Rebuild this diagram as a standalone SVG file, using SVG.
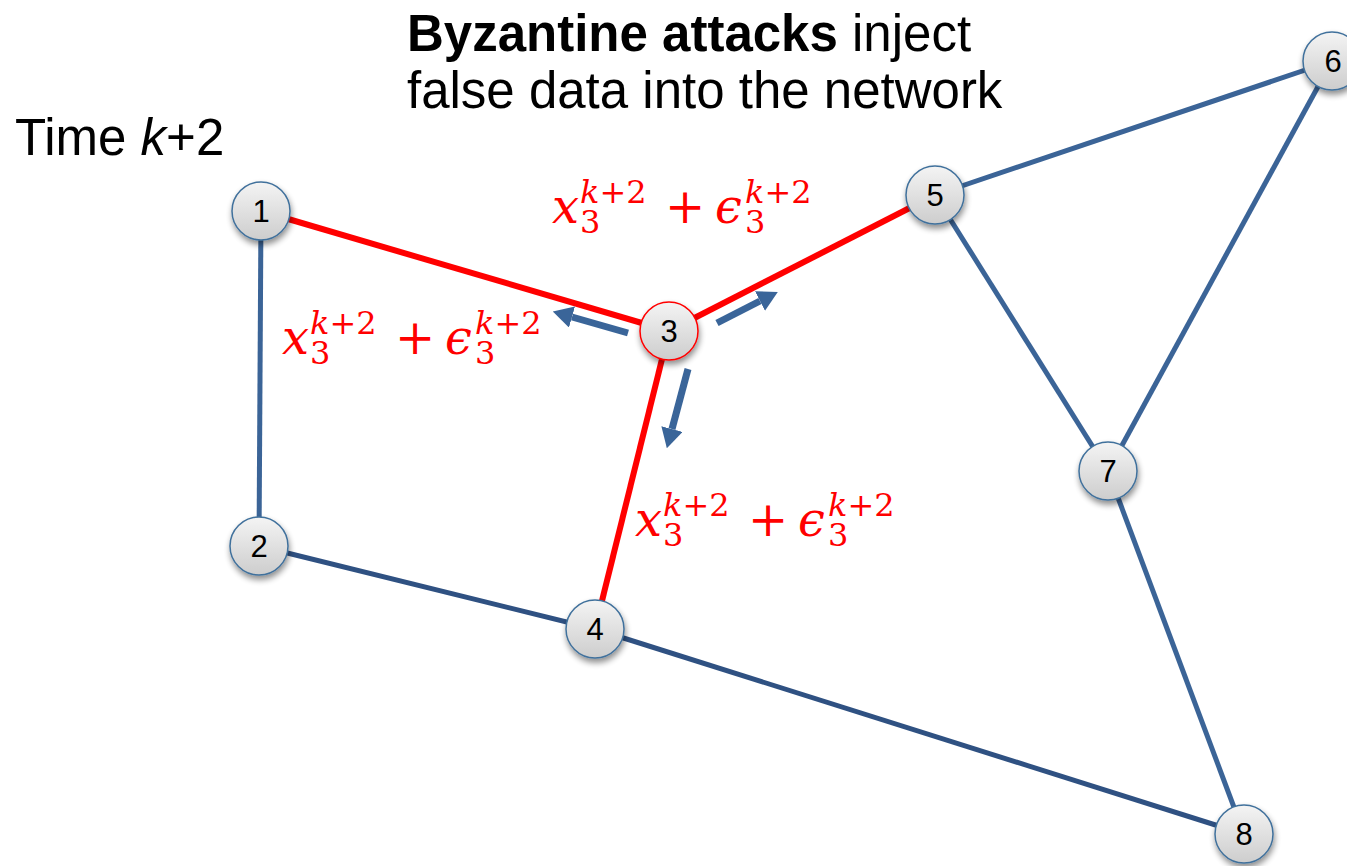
<svg xmlns="http://www.w3.org/2000/svg" width="1347" height="866" viewBox="0 0 1347 866">
<defs>
<linearGradient id="ng" x1="0" y1="0" x2="0" y2="1">
<stop offset="0" stop-color="#F4F4F4"/>
<stop offset="1" stop-color="#CDCDCD"/>
</linearGradient>
<filter id="sh" x="-40%" y="-40%" width="190%" height="190%">
<feGaussianBlur in="SourceAlpha" stdDeviation="3"/>
<feOffset dx="1" dy="4" result="b"/>
<feComponentTransfer><feFuncA type="linear" slope="0.45"/></feComponentTransfer>
<feMerge><feMergeNode/><feMergeNode in="SourceGraphic"/></feMerge>
</filter>
<marker id="ah" markerUnits="userSpaceOnUse" markerWidth="20" markerHeight="22" viewBox="0 0 20 22" refX="0" refY="11" orient="auto">
<path d="M0,0 L20,11 L0,22 z" fill="#3A6599"/>
</marker>
<style>
.node circle{fill:url(#ng);stroke:#41719C;stroke-width:1.5;filter:url(#sh)}
.node text{font-family:"Liberation Sans",Arial,sans-serif;font-size:31px;fill:#000;text-anchor:middle}
.e{stroke-width:5;stroke:#3B6497;fill:none}
.ed{stroke:#2F5182}
.er{stroke:#FF0000;stroke-width:6}
.arr{stroke:#3A6599;stroke-width:7;fill:none;marker-end:url(#ah)}
.m{font-family:"DejaVu Serif",serif;fill:#FF0000;font-size:48px}
.ms{font-size:32px;font-style:normal}
.it{font-style:italic}
.t{font-family:"Liberation Sans",Arial,sans-serif;font-size:51px;fill:#000}
</style>
</defs>
<g id="connectors">
<line class="e" x1="261" y1="211" x2="259" y2="546"/>
<line class="e ed" x1="259" y1="546" x2="595" y2="629"/>
<line class="e ed" x1="595" y1="629" x2="1244" y2="834"/>
<line class="e" x1="935" y1="195" x2="1332" y2="61"/>
<line class="e" x1="935" y1="195" x2="1108" y2="471"/>
<line class="e" x1="1332" y1="61" x2="1108" y2="471"/>
<line class="e" x1="1108" y1="471" x2="1244" y2="834"/>
<line class="e er" x1="261" y1="211" x2="669" y2="331"/>
<line class="e er" x1="669" y1="331" x2="935" y2="195"/>
<line class="e er" x1="669" y1="331" x2="595" y2="629"/>
<line class="arr" x1="628" y1="333" x2="572" y2="317"/>
<line class="arr" x1="717" y1="323" x2="760" y2="301"/>
<line class="arr" x1="688" y1="369" x2="672" y2="429"/>
</g>
<g id="node1" class="node"><circle cx="261" cy="211" r="29"/><text x="261" y="222">1</text></g>
<g id="node2" class="node"><circle cx="259" cy="546" r="29"/><text x="259" y="557">2</text></g>
<g id="node3" class="node"><circle cx="669" cy="331" r="29" style="stroke:#FF0000"/><text x="669" y="342">3</text></g>
<g id="node4" class="node"><circle cx="595" cy="629" r="29"/><text x="595" y="640">4</text></g>
<g id="node5" class="node"><circle cx="935" cy="195" r="29"/><text x="935" y="206">5</text></g>
<g id="node6" class="node"><circle cx="1332" cy="61" r="29"/><text x="1333" y="72">6</text></g>
<g id="node7" class="node"><circle cx="1108" cy="471" r="29"/><text x="1108" y="482">7</text></g>
<g id="node8" class="node"><circle cx="1244" cy="834" r="29"/><text x="1244" y="845">8</text></g>
<g id="title">
<text class="t" x="407" y="51"><tspan font-weight="bold">Byzantine attacks</tspan> inject</text>
<text class="t" x="407" y="108">false data into the network</text>
</g>
<g id="time">
<text class="t" x="15" y="155">Time <tspan font-style="italic">k</tspan>+2</text>
</g>
<g id="label-top" transform="translate(552,223)">
<text class="m"><tspan class="it" x="0" y="0">x</tspan><tspan class="ms" x="28" y="-20"><tspan class="it">k</tspan>+2</tspan><tspan class="ms" x="28" y="10">3</tspan><tspan x="113" y="0">+</tspan><tspan class="it" x="163" y="0">ϵ</tspan><tspan class="ms" x="193" y="-20"><tspan class="it">k</tspan>+2</tspan><tspan class="ms" x="193" y="10">3</tspan></text>
</g>
<g id="label-left" transform="translate(282,354)">
<text class="m"><tspan class="it" x="0" y="0">x</tspan><tspan class="ms" x="28" y="-20"><tspan class="it">k</tspan>+2</tspan><tspan class="ms" x="28" y="10">3</tspan><tspan x="113" y="0">+</tspan><tspan class="it" x="163" y="0">ϵ</tspan><tspan class="ms" x="193" y="-20"><tspan class="it">k</tspan>+2</tspan><tspan class="ms" x="193" y="10">3</tspan></text>
</g>
<g id="label-bottom" transform="translate(635,536)">
<text class="m"><tspan class="it" x="0" y="0">x</tspan><tspan class="ms" x="28" y="-20"><tspan class="it">k</tspan>+2</tspan><tspan class="ms" x="28" y="10">3</tspan><tspan x="113" y="0">+</tspan><tspan class="it" x="163" y="0">ϵ</tspan><tspan class="ms" x="193" y="-20"><tspan class="it">k</tspan>+2</tspan><tspan class="ms" x="193" y="10">3</tspan></text>
</g>
</svg>
